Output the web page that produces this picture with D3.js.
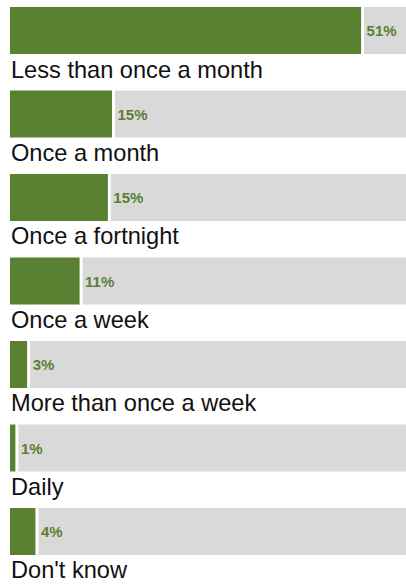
<!DOCTYPE html>
<html>
<head>
<meta charset="utf-8">
<script src="https://cdn.jsdelivr.net/npm/d3@7"></script>
<style>
body{margin:0;background:#fff;}
svg{display:block;}
</style>
</head>
<body>
<script>
// data
var categories = ['Less than once a month','Once a month','Once a fortnight','Once a week','More than once a week','Daily',"Don't know"];
var values = [51.1, 15.0, 14.4, 10.3, 2.7, 1.0, 3.9];
var labels = ['51%','15%','15%','11%','3%','1%','4%'];

var width = 406,
	height = 585,
	left = 10;

var svg = d3.select('body').append('svg')
			.attr('width',width)
			.attr('height',height);

// 100% would be ~690px wide, so the grey track runs off the right edge
var scale_x = d3.scaleLinear().domain([0,100]).range([left,left+690]);
var scale_y = d3.scaleBand().domain(categories).range([7,555]).paddingInner(0.437).paddingOuter(0).align(0);
var bh = scale_y.bandwidth();

var row = svg.selectAll('g.row').data(categories).enter()
			 .append('g').attr('class','row')
			 .attr('transform',function(d){return 'translate(0,'+scale_y(d)+')';});

// grey remainder
row.append('rect')
   .attr('x',function(d,i){return scale_x(values[i])+1.5;})
   .attr('y',0)
   .attr('width',function(d,i){return scale_x(100)-scale_x(values[i]);})
   .attr('height',bh)
   .attr('fill','#d9d9d9');

// green value bar
row.append('rect')
   .attr('x',scale_x(0))
   .attr('y',0)
   .attr('width',function(d,i){return Math.max(0,scale_x(values[i])-scale_x(0)-1.5);})
   .attr('height',bh)
   .attr('fill','#5a8032');

// percent text
row.append('text')
   .attr('x',function(d,i){return scale_x(values[i])+4;})
   .attr('y',29.3)
   .text(function(d,i){return labels[i];})
   .attr('font-family','"Liberation Sans", Arial, Helvetica, sans-serif')
   .attr('font-weight','bold')
   .attr('font-size','15px')
   .attr('fill','#5a8032');

// category name under the bar
row.append('text')
   .attr('x',left+1)
   .attr('y',bh+23.5)
   .text(function(d){return d;})
   .attr('font-family','"Liberation Sans", Arial, Helvetica, sans-serif')
   .attr('font-size','23.6px')
   .attr('fill','#111');
</script>
</body>
</html>
